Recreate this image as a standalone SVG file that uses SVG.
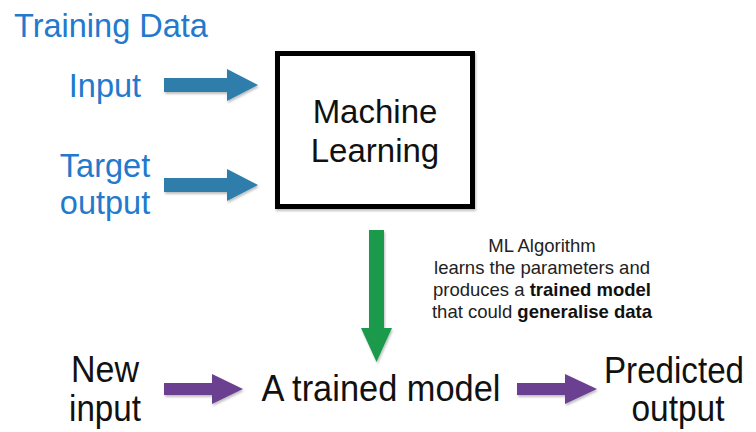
<svg xmlns="http://www.w3.org/2000/svg" width="756" height="432" viewBox="0 0 756 432">
  <style>
    .blue { font-family: "Liberation Sans", Arial, sans-serif; font-size: 32.5px; fill: #2379cc; }
    .main { font-family: "Liberation Sans", Arial, sans-serif; font-size: 33px; fill: #111111; }
    .narrow { font-family: "Liberation Sans", Arial, sans-serif; font-size: 36px; fill: #111111; }
    .note { font-family: "Liberation Sans", Arial, sans-serif; font-size: 18.5px; fill: #222222; }
    .b { font-weight: bold; fill: #111111; }
    .arrow-blue { fill: #2d7dab; }
    .arrow-green { fill: #1f9a4b; }
    .arrow-purple { fill: #6c4090; }
  </style>
  <defs>
    <filter id="shadow" x="-10%" y="-10%" width="130%" height="140%">
      <feDropShadow dx="1" dy="2" stdDeviation="1.2" flood-color="#000000" flood-opacity="0.25"/>
    </filter>
  </defs>
  <rect width="756" height="432" fill="#ffffff"/>

  <g id="training-data">
    <text class="blue" x="14" y="37">Training Data</text>
  </g>
  <g id="input">
    <text class="blue" x="105" y="97" text-anchor="middle">Input</text>
  </g>
  <g id="target-output">
    <text class="blue" x="105" y="177" text-anchor="middle">Target</text>
    <text class="blue" x="105" y="214" text-anchor="middle">output</text>
  </g>
  <g id="machine-learning">
    <rect x="277.5" y="53.5" width="195" height="153" fill="#ffffff" stroke="#000000" stroke-width="5" filter="url(#shadow)"/>
    <text class="main" x="375" y="123" text-anchor="middle">Machine</text>
    <text class="main" x="375" y="162" text-anchor="middle">Learning</text>
  </g>
  <g id="new-input">
    <text class="narrow" x="105" y="382" text-anchor="middle" textLength="68" lengthAdjust="spacingAndGlyphs">New</text>
    <text class="narrow" x="105" y="421" text-anchor="middle" textLength="72" lengthAdjust="spacingAndGlyphs">input</text>
  </g>
  <g id="trained-model">
    <text class="narrow" x="381" y="401" text-anchor="middle" textLength="239" lengthAdjust="spacingAndGlyphs">A trained model</text>
  </g>
  <g id="predicted-output">
    <text class="narrow" x="674" y="383" text-anchor="middle" textLength="140" lengthAdjust="spacingAndGlyphs">Predicted</text>
    <text class="narrow" x="678" y="421" text-anchor="middle" textLength="93" lengthAdjust="spacingAndGlyphs">output</text>
  </g>

  <g id="connectors">
    <polygon class="arrow-blue" filter="url(#shadow)" points="164,78 227,78 227,69 258,85 227,101 227,92 164,92"/>
    <polygon class="arrow-blue" filter="url(#shadow)" points="164,178 227,178 227,169 258,185 227,201 227,192 164,192"/>
    <polygon class="arrow-green" filter="url(#shadow)" points="369,230 384,230 384,328 392,328 376.5,362 361,328 369,328"/>
    <polygon class="arrow-purple" filter="url(#shadow)" points="164,383 212,383 212,374 243,389 212,404 212,395 164,395"/>
    <polygon class="arrow-purple" filter="url(#shadow)" points="517,383 565,383 565,374 597,389 565,404 565,395 517,395"/>
    <g id="edge-label">
      <text class="note" x="542" y="252" text-anchor="middle">ML Algorithm</text>
      <text class="note" x="542" y="274" text-anchor="middle">learns the parameters and</text>
      <text class="note" x="542" y="296" text-anchor="middle">produces a <tspan class="b">trained model</tspan></text>
      <text class="note" x="542" y="318" text-anchor="middle">that could <tspan class="b">generalise data</tspan></text>
    </g>
  </g>
</svg>
